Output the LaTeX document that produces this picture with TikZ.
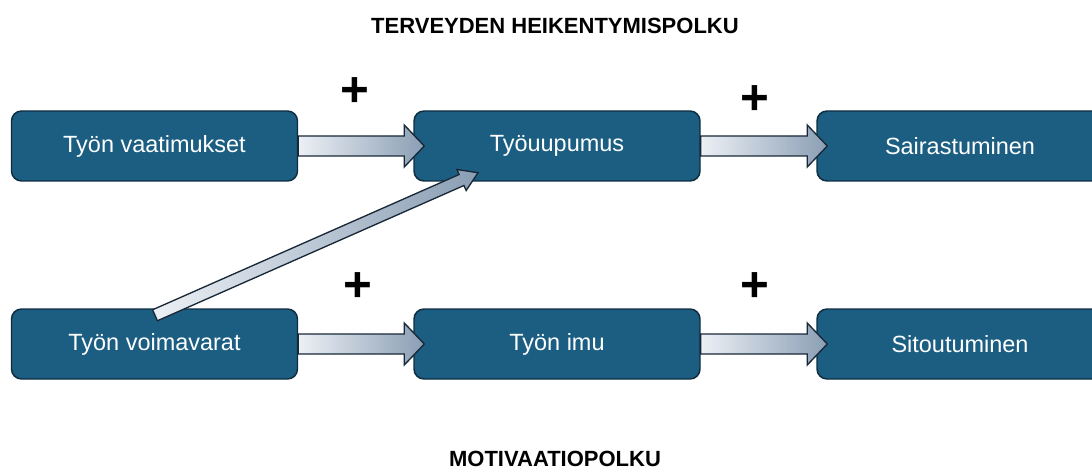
\documentclass[tikz,border=0pt]{standalone}
\usepackage{fontspec}
\setmainfont{Liberation Sans}
\usepackage{tikz}
\usetikzlibrary{calc}
\usepackage{xcolor}
\definecolor{boxblue}{RGB}{27,94,130}
\definecolor{boxedge}{RGB}{14,45,64}
\definecolor{arrowlight}{RGB}{236,240,245}
\definecolor{arrowdark}{RGB}{138,158,180}
\definecolor{arrowedge}{RGB}{25,40,55}

% block arrow: start, tip, shaft half width, head half width, head length
\newcommand{\flowarrow}[5]{%
    \coordinate (hb) at ($(#2)!#5!(#1)$);
    \draw[flow] ($(#1)!#3!-90:(#2)$) -- ($(hb)!#3!-90:(#2)$) -- ($(hb)!#4!-90:(#2)$)
        -- (#2) -- ($(hb)!#4!90:(#2)$) -- ($(hb)!#3!90:(#2)$) -- ($(#1)!#3!90:(#2)$) -- cycle;
}

\begin{document}
\begin{tikzpicture}[
    x=0.75pt, y=-0.75pt,
    stage/.style={
        rectangle, rounded corners=7.5pt, draw=boxedge, line width=1.1pt,
        fill=boxblue, text=white,
        minimum width=214.5pt, minimum height=52.5pt,
        font=\fontsize{17.6}{21}\selectfont
    },
    flow/.style={draw=arrowedge, line width=1pt, left color=arrowlight, right color=arrowdark},
    title/.style={font=\bfseries\fontsize{16.5}{20}\selectfont},
    sign/.style={font=\bfseries\fontsize{37}{40}\selectfont}
]

\useasboundingbox (0,0) rectangle (1092,470);
\clip (0,0) rectangle (1092,470);

% Titles
\node[title] (health) at (555, 26) {TERVEYDEN HEIKENTYMISPOLKU};
\node[title] (motiv)  at (555, 459) {MOTIVAATIOPOLKU};

% Stages - health impairment path
\node[stage] (dem)  at (154.5, 146) {Työn vaatimukset};
\node[stage] (burn) at (557, 146)   {Työuupumus};
\node[stage] (ill)  at (960, 146)   {Sairastuminen};

% Stages - motivation path
\node[stage] (res)  at (154.5, 344) {Työn voimavarat};
\node[stage] (eng)  at (557, 344)   {Työn imu};
\node[stage] (com)  at (960, 344)   {Sitoutuminen};

% Arrow tips
\coordinate (t1) at ($(burn.west)+(11,0)$);
\coordinate (t2) at ($(ill.west)+(11,0)$);
\coordinate (t3) at ($(eng.west)+(11,0)$);
\coordinate (t4) at ($(com.west)+(11,0)$);
\coordinate (d0) at ($(res.north)+(0.5,7)$);
\coordinate (d1) at ($(burn.south)+(-79,-9)$);

% Block arrows
\flowarrow{dem.east}{t1}{7.5pt}{15.75pt}{15pt}
\flowarrow{burn.east}{t2}{7.5pt}{15.75pt}{15pt}
\flowarrow{res.east}{t3}{7.5pt}{15.75pt}{15pt}
\flowarrow{eng.east}{t4}{7.5pt}{15.75pt}{15pt}
\flowarrow{d0}{d1}{4.5pt}{8.6pt}{13.5pt}

% Signs
\node[sign] (p1) at (355, 92)  {+};
\node[sign] (p2) at (755, 100) {+};
\node[sign] (p3) at (358, 287) {+};
\node[sign] (p4) at (755, 287) {+};

\end{tikzpicture}
\end{document}
